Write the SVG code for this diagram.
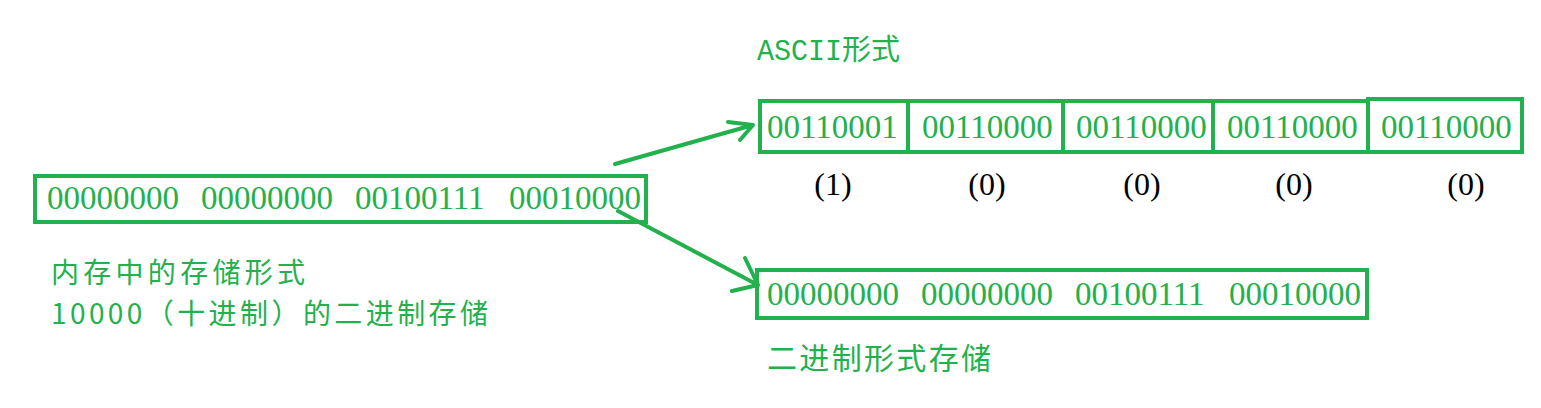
<svg xmlns="http://www.w3.org/2000/svg" width="1541" height="408" viewBox="0 0 1541 408">
<style>
.box{fill:none;stroke:#22B14C;stroke-width:4}
.bits{font-family:"Liberation Serif","Times New Roman",serif;font-size:33px;fill:#22B14C}
.cjk{font-family:"Noto Sans CJK SC","Noto Sans",sans-serif;fill:#22B14C}
.lbl{font-family:"Liberation Serif","Times New Roman",serif;font-size:32px;fill:#000;text-anchor:middle}
.arr{fill:none;stroke:#22B14C;stroke-width:4;stroke-linecap:round;stroke-linejoin:round}
</style>
<rect width="1541" height="408" fill="#fff"/>
<g id="memory">
<rect class="box" x="35" y="176" width="611" height="46"/>
<text class="bits" y="209"><tspan x="47">00000000</tspan><tspan x="201">00000000</tspan><tspan x="355">00100111</tspan><tspan x="509">00010000</tspan></text>
<text class="cjk" x="51" y="283" font-size="28" textLength="254" lengthAdjust="spacing">内存中的存储形式</text>
<text class="cjk" x="51" y="324" font-size="28" textLength="437" lengthAdjust="spacing">10000（十进制）的二进制存储</text>
</g>
<g id="ascii">
<text x="757" y="60" font-size="29" fill="#22B14C"><tspan font-family="Liberation Mono,monospace" textLength="85" lengthAdjust="spacingAndGlyphs">ASCII</tspan><tspan font-family="Noto Sans CJK SC,sans-serif">形式</tspan></text>
<rect class="box" x="760" y="101" width="148" height="51"/>
<rect class="box" x="908" y="101" width="155" height="51"/>
<rect class="box" x="1063" y="101" width="150" height="51"/>
<rect class="box" x="1213" y="101" width="155" height="51"/>
<rect class="box" x="1368" y="99" width="154" height="53"/>
<text class="bits" y="138"><tspan x="767">00110001</tspan><tspan x="922">00110000</tspan><tspan x="1076">00110000</tspan><tspan x="1227">00110000</tspan><tspan x="1381">00110000</tspan></text>
<text class="lbl" x="833" y="195">(1)</text>
<text class="lbl" x="987" y="195">(0)</text>
<text class="lbl" x="1142" y="195">(0)</text>
<text class="lbl" x="1294" y="195">(0)</text>
<text class="lbl" x="1466" y="195">(0)</text>
</g>
<g id="binary">
<rect class="box" x="757" y="270" width="610" height="48"/>
<text class="bits" y="305"><tspan x="767">00000000</tspan><tspan x="921">00000000</tspan><tspan x="1075">00100111</tspan><tspan x="1229">00010000</tspan></text>
<text class="cjk" x="767" y="369" font-size="30" textLength="224" lengthAdjust="spacing">二进制形式存储</text>
</g>
<g id="connectors">
<path class="arr" d="M615,164 L753,125 M728,122 L753,125 L740,140"/>
<path class="arr" d="M618,211 L758,285 M745,258 L758,285 L732,291"/>
</g>
</svg>
